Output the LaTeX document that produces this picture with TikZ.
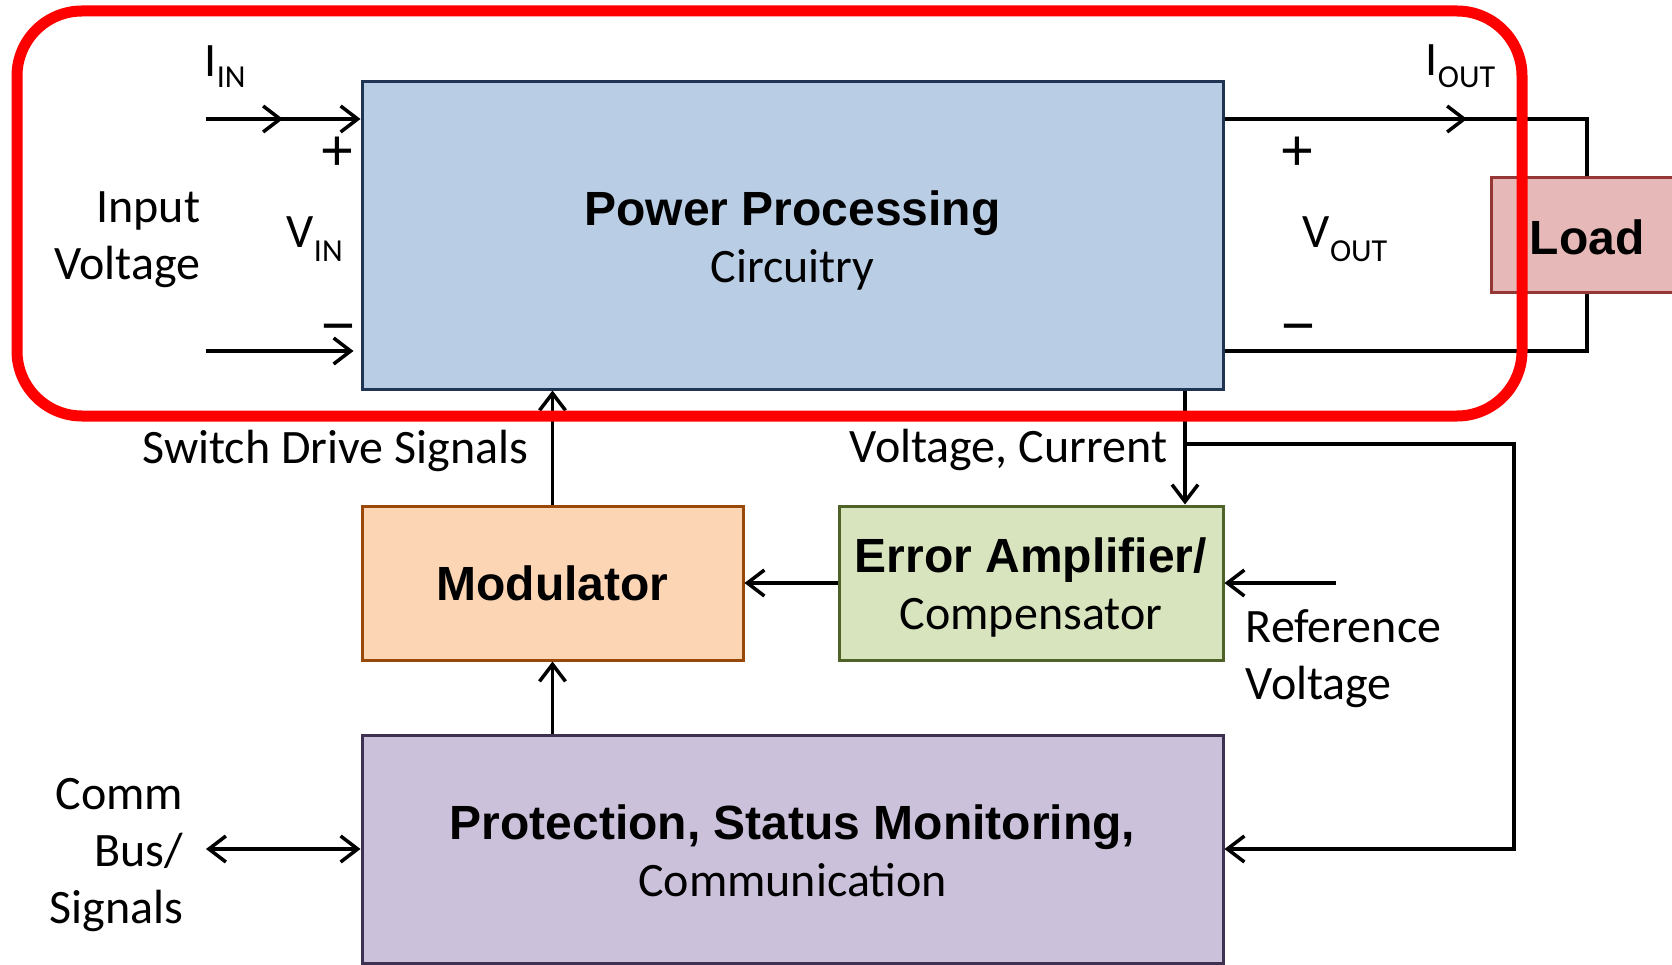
\documentclass[tikz,border=0pt]{standalone}
\usepackage{fontspec}
\setmainfont{Carlito}
\newfontfamily\headfont{Liberation Sans}
\usetikzlibrary{arrows.meta}
\definecolor{ppfill}{HTML}{B9CDE5}
\definecolor{ppline}{HTML}{1F3553}
\definecolor{modfill}{HTML}{FCD5B5}
\definecolor{modline}{HTML}{984807}
\definecolor{errfill}{HTML}{D7E4BD}
\definecolor{errline}{HTML}{4F6228}
\definecolor{protfill}{HTML}{CCC1DA}
\definecolor{protline}{HTML}{3F3151}
\definecolor{loadfill}{HTML}{E6B9B8}
\definecolor{loadline}{HTML}{953735}
\definecolor{frame}{HTML}{FF0000}
\newcommand\hd[1]{{\headfont\bfseries\fontsize{48}{57}\selectfont #1}}
\newcommand\subtxt[3]{#1\raisebox{-#3pt}{\fontsize{32}{32}\selectfont #2}}

\begin{document}
\begin{tikzpicture}[x=1pt, y=-1pt,
every node/.style = {font=\fontsize{48}{57}\selectfont},
       line width = 3.5pt,
                >={Straight Barb[length=17pt,width=26pt]},
        box/.style = {draw, line width=3pt, inner sep=0pt, align=center},
        lbl/.style = {inner sep=0pt, align=#1},
        lbl/.default = center,
       sign/.style = {inner sep=0pt, anchor=base, font=\headfont\fontsize{58}{58}\selectfont}
                    ]
\useasboundingbox (0,0) rectangle (1672,965);
\clip (0,0) rectangle (1672,965);

% blocks
\node (pp)   [box, draw=ppline, fill=ppfill, minimum width=861, minimum height=307]
             at (792.5,235.5) {\rule{0pt}{45pt}\hd{Power Processing}\\ Circuitry};
\node (err)  [box, draw=errline, fill=errfill, minimum width=384, minimum height=154]
             at (1031,583) {\rule{0pt}{43pt}\hd{Error Amplifier/}\\ Compensator};
\node (mod)  [box, draw=modline, fill=modfill, minimum width=381, minimum height=154]
             at (552.5,583) {\hd{Modulator}};
\node (prot) [box, draw=protline, fill=protfill, minimum width=861, minimum height=228]
             at (792.5,849) {\rule{0pt}{39pt}\hd{Protection, Status Monitoring,}\\ Communication};
\node (load) [box, draw=loadline, fill=loadfill, minimum width=192, minimum height=115]
             at (1587,235.5) {\rule{0pt}{38pt}\hd{Load}};

% free ends
\coordinate (inP)   at (206,119);
\coordinate (inPm)  at (283,119);
\coordinate (inN)   at (206,351);
\coordinate (outP)  at (1587,119);
\coordinate (outPm) at (1467,119);
\coordinate (outN)  at (1587,351);
\coordinate (sense) at (1185,444);
\coordinate (fbk)   at (1514,444);
\coordinate (vref)  at (1336,583);
\coordinate (comm)  at (206,849);

% power path
\draw[->] (inP) -- (inPm);
\draw[->] (inP) -- (inP -| pp.west);
\draw[->] (inN) -- ([xshift=-7pt]inN -| pp.west);
\draw     (inP -| pp.east) -- (outP) -- (load.north);
\draw[->] (inP -| pp.east) -- (outPm);
\draw     (inN -| pp.east) -- (outN) -- (load.south);

% control loop
\draw[->] (pp.south -| sense) -- (err.north -| sense);
\draw[->] (sense) -- (fbk) |- (prot.east);
\draw[->] (err.west) -- (mod.east);
\draw[->] (mod.north) -- (pp.south -| mod.north);
\draw[->] (prot.north -| mod.south) -- (mod.south);
\draw[->] (vref) -- (err.east);
\draw[<->] (comm) -- (prot.west);

% labels
\node (iin)  [lbl, anchor=base west] at (203,77)   {\subtxt{I}{IN}{11}};
\node (iout) [lbl, anchor=base west] at (1424,76)  {\subtxt{I}{OUT}{12}};
\node (vin)  [lbl, anchor=base west] at (285,248)  {\subtxt{V}{IN}{14}};
\node (vout) [lbl, anchor=base west] at (1301,248) {\subtxt{V}{OUT}{14}};
\node (pin)  [sign] at (337,171)  {+};
\node (nin)  [sign] at (338,345)  {−};
\node (pout) [sign] at (1297,171) {+};
\node (nout) [sign] at (1298,345) {−};
\node (txin)  [lbl=right, anchor=east] at (202,240) {Input\\Voltage};
\node (txsw)  [lbl, anchor=base east]  at (530,463) {Switch Drive Signals};
\node (txvi)  [lbl, anchor=base west]  at (848,462) {Voltage, Current};
\node (txref) [lbl=left, anchor=west]  at (1244,659) {Reference\\Voltage};
\node (txcom) [lbl=right, anchor=east] at (185,855) {Comm\\Bus/\\Signals};

% highlight
\draw[frame, line width=11pt, rounded corners=65pt] (17,11) rectangle (1522,416);
\end{tikzpicture}
\end{document}
